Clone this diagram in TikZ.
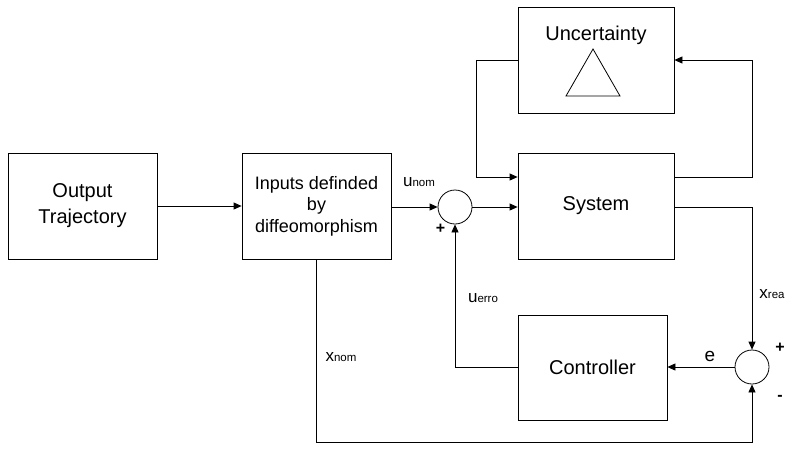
\documentclass[tikz,border=0pt]{standalone}
\usepackage{fontspec}
\setmainfont{Liberation Sans}
\usetikzlibrary{arrows.meta}
\begin{document}
\begin{tikzpicture}[x=1pt,y=-1pt,
  blk/.style={draw,line width=0.8pt,inner sep=0pt,align=center,font=\fontsize{20}{26}\selectfont},
  sumnode/.style={draw,circle,line width=0.8pt,minimum size=34pt,inner sep=0pt},
  conn/.style={line width=0.8pt},
  arr/.style={line width=0.8pt,-{Triangle[length=8pt,width=7pt]}},
  lbl/.style={inner sep=0pt,font=\fontsize{17}{17}\selectfont},
  sub/.style={},
  sgn/.style={inner sep=0pt,font=\bfseries\fontsize{16}{16}\selectfont}]
\useasboundingbox (0,0) rectangle (786,475);
\node[blk,minimum width=149pt,minimum height=106pt] (ot) at (82.5,206) {\raisebox{-2pt}{Output}\\\raisebox{-2pt}{Trajectory}};
\node[blk,minimum width=149pt,minimum height=106pt,font=\fontsize{18}{21.5}\selectfont] (inp) at (316.5,206) {Inputs definded\\by\\diffeomorphism};
\node[blk,minimum width=156pt,minimum height=106pt] (unc) at (596,60) {};
\node[font=\fontsize{20}{20}\selectfont,inner sep=0pt] (unct) at (596,35) {Uncertainty};
\coordinate (ta) at (593,49);
\coordinate (tb) at (566,96);
\coordinate (tc) at (620,96);
\draw[conn] (ta) -- (tb) -- (tc) -- cycle;
\node[blk,minimum width=156pt,minimum height=106pt] (sys) at (596,206) {\raisebox{-3pt}{System}};
\node[blk,minimum width=149pt,minimum height=105pt] (ctl) at (592.5,367.5) {Controller};
\node[sumnode] (s1) at (455,207) {};
\node[sumnode] (s2) at (752,367) {};
\coordinate (c1) at (476,60);
\coordinate (c2) at (476,177);
\coordinate (c3) at (752,177);
\coordinate (c4) at (752,60);
\coordinate (c5) at (752,207);
\coordinate (c6) at (455,367);
\coordinate (c7) at (316.5,442);
\coordinate (c8) at (752,442);
\draw[arr] (ot.east) -- (inp.west);
\draw[arr] (inp.east |- s1.west) -- (s1.west);
\draw[arr] (s1.east) -- (sys.west |- s1.east);
\draw[arr] (unc.west |- c1) -- (c1) -- (c2) -- (sys.west |- c2);
\draw[arr] (sys.east |- c3) -- (c3) -- (c4) -- (unc.east |- c4);
\draw[arr] (sys.east |- c5) -- (c5) -- (s2.north);
\draw[arr] (s2.west) -- (ctl.east |- s2.west);
\draw[arr] (ctl.west |- c6) -- (c6) -- (s1.south);
\draw[arr] (inp.south) -- (c7) -- (c8) -- (s2.south);
\node[lbl] (lun) at (419,182) {u{\fontsize{11.5}{11.5}\selectfont nom}};
\node[lbl] (lue) at (483,298) {u{\fontsize{11.5}{11.5}\selectfont erro}};
\node[lbl] (lxr) at (772,294) {x{\fontsize{11.5}{11.5}\selectfont rea}};
\node[lbl] (lxn) at (341,357) {x{\fontsize{11.5}{11.5}\selectfont nom}};
\node[lbl,font=\fontsize{19}{19}\selectfont] (le) at (710,356) {e};
\node[sgn] (p1) at (440.5,229) {+};
\node[sgn] (p2) at (780,348) {+};
\node[sgn] (m2) at (780,398) {-};
\end{tikzpicture}
\end{document}
